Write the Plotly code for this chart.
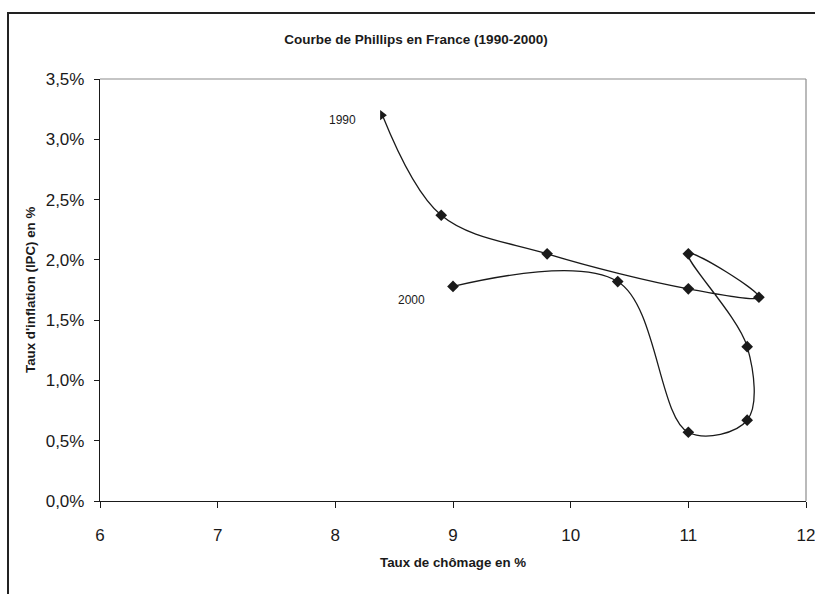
import plotly.graph_objects as go

# Chômage (%) et inflation IPC (%) en France, 1990 -> 2000
annees = ["1990", "1991", "1992", "1993", "1994", "1995", "1996", "1997", "1998", "1999", "2000"]
chomage = [8.4, 8.9, 9.8, 11.0, 11.6, 11.0, 11.5, 11.5, 11.0, 10.4, 9.0]
inflation = [3.20, 2.37, 2.05, 1.76, 1.69, 2.05, 1.28, 0.67, 0.57, 1.82, 1.78]

x_ticks = [6, 7, 8, 9, 10, 11, 12]
y_ticks = [0.0, 0.5, 1.0, 1.5, 2.0, 2.5, 3.0, 3.5]
y_ticklabels = [f"{v:.1f}%".replace(".", ",") for v in y_ticks]

FONT = "Liberation Sans, Arial, sans-serif"
INK = "#1a1a1a"

symbols = ["triangle-right"] + ["diamond"] * (len(chomage) - 1)

fig = go.Figure()
fig.add_trace(go.Scatter(
    x=chomage,
    y=inflation,
    mode="lines+markers",
    line=dict(color=INK, width=1.3, shape="spline", smoothing=1.0),
    marker=dict(symbol=symbols, size=9, color=INK, line=dict(width=0)),
    hoverinfo="skip",
    showlegend=False,
))

# year labels at the ends of the path
fig.add_annotation(x=chomage[0], y=inflation[0], text=annees[0], showarrow=False,
                   xshift=-40, yshift=-5, font=dict(family=FONT, size=12, color=INK))
fig.add_annotation(x=chomage[-1], y=inflation[-1], text=annees[-1], showarrow=False,
                   xshift=-42, yshift=-14, font=dict(family=FONT, size=12, color=INK))

# axis titles
fig.add_annotation(xref="paper", yref="paper", x=0.5, y=-0.145, yanchor="middle",
                   text="<b>Taux de chômage en %</b>", showarrow=False,
                   font=dict(family=FONT, size=13.3, color=INK))
fig.add_annotation(xref="paper", yref="paper", x=-0.0992, y=0.5, xanchor="center",
                   text="<b>Taux d'inflation (IPC) en %</b>", showarrow=False, textangle=-90,
                   font=dict(family=FONT, size=13.3, color=INK))

# gray top/right border of the plot area
fig.add_shape(type="line", xref="paper", yref="paper", x0=0, x1=1, y0=1, y1=1,
              line=dict(color="#8c8c8c", width=1.2))
fig.add_shape(type="line", xref="paper", yref="paper", x0=1, x1=1, y0=0, y1=1,
              line=dict(color="#8c8c8c", width=1.2))
# outer chart frame
fig.add_shape(type="rect", xref="paper", yref="paper", x0=-0.1303, x1=1.2, y0=-0.3, y1=1.1564,
              line=dict(color="#222222", width=2), layer="below")

fig.update_layout(
    width=815,
    height=594,
    margin=dict(l=100, r=9, t=79, b=93, autoexpand=False),
    paper_bgcolor="white",
    plot_bgcolor="white",
    title=dict(text="<b>Courbe de Phillips en France (1990-2000)</b>", x=416 / 815, xanchor="center",
               y=1 - 39 / 594, yanchor="middle",
               font=dict(family=FONT, size=13.5, color=INK)),
    xaxis=dict(
        range=[6, 12], tickvals=x_ticks, ticktext=[str(v) for v in x_ticks],
        showgrid=False, zeroline=False, showline=True, linecolor=INK, linewidth=1.3,
        ticks="outside", ticklen=6, tickcolor=INK, tickwidth=1,
        ticklabelstandoff=12, ticklabeloverflow="allow", automargin=False,
        tickfont=dict(family=FONT, size=17, color=INK),
    ),
    yaxis=dict(
        range=[0, 3.5], tickvals=y_ticks, ticktext=y_ticklabels,
        showgrid=False, zeroline=False, showline=True, linecolor=INK, linewidth=1.3,
        ticks="outside", ticklen=5, tickcolor=INK, tickwidth=1,
        ticklabelstandoff=6, ticklabeloverflow="allow", automargin=False,
        tickfont=dict(family=FONT, size=17, color=INK),
    ),
)

fig.write_html("out.html")
